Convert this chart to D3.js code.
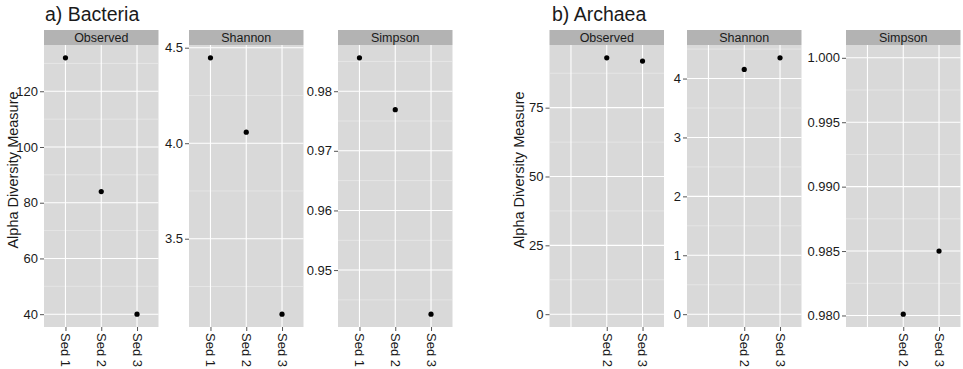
<!DOCTYPE html>
<html><head><meta charset="utf-8">
<script src="https://cdn.jsdelivr.net/npm/d3@7"></script>
<style>
body{margin:0;background:#fff;}
svg{display:block;font-family:"Liberation Sans",Arial,sans-serif;}
</style></head>
<body><svg id="c" width="963" height="369"></svg>
<script>
// ---- data ----
const samples = ["Sed 1", "Sed 2", "Sed 3"];
const measures = ["Observed", "Shannon", "Simpson"];

const bacteriaObserved = [132, 84, 40];
const bacteriaShannon = [4.447, 4.058, 3.105];
const bacteriaSimpson = [0.9856, 0.9769, 0.9426];

const archaeaObserved = [null, 93.1, 91.9];
const archaeaShannon = [null, 4.155, 4.352];
const archaeaSimpson = [null, 0.9801, 0.9850];
// Sed 1 archaea values: they set the axis range but have no visible point
const archaeaSed1Hidden = [0, 0, 1];

const bacteriaXLabels = ["Sed 1", "Sed 2", "Sed 3"];
const archaeaXLabels = ["", "Sed 2", "Sed 3"];

const bacteriaObservedTicks = [40, 60, 80, 100, 120];
const bacteriaShannonTicks = [3.5, 4.0, 4.5];
const bacteriaSimpsonTicks = [0.95, 0.96, 0.97, 0.98];
const archaeaObservedTicks = [0, 25, 50, 75];
const archaeaShannonTicks = [0, 1, 2, 3, 4];
const archaeaSimpsonTicks = [0.980, 0.985, 0.990, 0.995, 1.000];

const bacteriaObservedLabels = ["40", "60", "80", "100", "120"];
const bacteriaShannonLabels = ["3.5", "4.0", "4.5"];
const bacteriaSimpsonLabels = ["0.95", "0.96", "0.97", "0.98"];
const archaeaObservedLabels = ["0", "25", "50", "75"];
const archaeaShannonLabels = ["0", "1", "2", "3", "4"];
const archaeaSimpsonLabels = ["0.980", "0.985", "0.990", "0.995", "1.000"];

const titles = ["a) Bacteria", "b) Archaea"];
const yTitle = "Alpha Diversity Measure";

// ---- layout ----
const svg = d3.select("#c");
const stripTop = 30, panelTop = 45, panelBottom = 327, panelW = 114.5;
const colPanel = "#d9d9d9", colStrip = "#b3b3b3", colText = "#1a1a1a";

const blocks = [
  {title: titles[0], titleX: 45, yTitleX: 18, lefts: [44, 189, 338], xLabels: bacteriaXLabels,
   panels: [
     {vals: bacteriaObserved, hidden: null, ticks: bacteriaObservedTicks, labels: bacteriaObservedLabels},
     {vals: bacteriaShannon, hidden: null, ticks: bacteriaShannonTicks, labels: bacteriaShannonLabels},
     {vals: bacteriaSimpson, hidden: null, ticks: bacteriaSimpsonTicks, labels: bacteriaSimpsonLabels}]},
  {title: titles[1], titleX: 552, yTitleX: 524, lefts: [549.5, 687, 846], xLabels: archaeaXLabels,
   panels: [
     {vals: archaeaObserved, hidden: archaeaSed1Hidden[0], ticks: archaeaObservedTicks, labels: archaeaObservedLabels},
     {vals: archaeaShannon, hidden: archaeaSed1Hidden[1], ticks: archaeaShannonTicks, labels: archaeaShannonLabels},
     {vals: archaeaSimpson, hidden: archaeaSed1Hidden[2], ticks: archaeaSimpsonTicks, labels: archaeaSimpsonLabels}]}
];

blocks.forEach(b => {
  svg.append("text").attr("x", b.titleX).attr("y", 20.5)
    .attr("font-size", 19.5).attr("fill", colText).text(b.title);
  svg.append("text")
    .attr("transform", `translate(${b.yTitleX},170) rotate(-90)`)
    .attr("text-anchor", "middle").attr("font-size", 14.5).attr("fill", colText).text(yTitle);

  b.panels.forEach((p, i) => {
    const left = b.lefts[i];
    const g = svg.append("g");
    const x = d3.scalePoint().domain(samples).range([left, left + panelW]).padding(0.6);
    const ext = d3.extent(p.vals.filter(v => v != null).concat(p.hidden != null ? [p.hidden] : []));
    const span = ext[1] - ext[0];
    const y = d3.scaleLinear().domain([ext[0] - 0.05 * span, ext[1] + 0.05 * span]).range([panelBottom, panelTop]);

    // strip
    g.append("rect").attr("x", left).attr("y", stripTop).attr("width", panelW).attr("height", panelTop - stripTop).attr("fill", colStrip);
    g.append("text").attr("x", left + panelW / 2).attr("y", stripTop + 11.5).attr("text-anchor", "middle")
      .attr("font-size", 12.5).attr("fill", colText).text(measures[i]);
    // panel
    g.append("rect").attr("x", left).attr("y", panelTop).attr("width", panelW).attr("height", panelBottom - panelTop).attr("fill", colPanel);

    // minor gridlines
    const step = p.ticks[1] - p.ticks[0];
    const minors = [p.ticks[0] - step / 2].concat(p.ticks.map(t => t + step / 2))
      .filter(m => m >= y.domain()[0] && m <= y.domain()[1]);
    g.selectAll(".mn").data(minors).join("line")
      .attr("x1", left).attr("x2", left + panelW).attr("y1", d => y(d)).attr("y2", d => y(d))
      .attr("stroke", "#efefef").attr("stroke-width", 0.6);
    // major gridlines
    g.selectAll(".mj").data(p.ticks).join("line")
      .attr("x1", left).attr("x2", left + panelW).attr("y1", d => y(d)).attr("y2", d => y(d))
      .attr("stroke", "#fff").attr("stroke-width", 1.1);
    g.selectAll(".mx").data(samples).join("line")
      .attr("x1", d => x(d)).attr("x2", d => x(d)).attr("y1", panelTop).attr("y2", panelBottom)
      .attr("stroke", "#fff").attr("stroke-width", 1.1);

    // y axis
    const ya = g.append("g").attr("transform", `translate(${left},0)`)
      .call(d3.axisLeft(y).tickValues(p.ticks).tickSize(4).tickPadding(2)
        .tickFormat((d, k) => p.labels[k]));
    ya.select(".domain").remove();
    ya.selectAll("line").attr("stroke", "#555");
    ya.selectAll("text").attr("font-size", 13).attr("fill", colText)
      .attr("font-family", "Liberation Sans, Arial, sans-serif");

    // x axis
    const xa = g.append("g").attr("transform", `translate(0,${panelBottom})`)
      .call(d3.axisBottom(x).tickSize(4).tickPadding(2)
        .tickFormat((d, k) => b.xLabels[k]));
    xa.select(".domain").remove();
    xa.selectAll("line").attr("stroke", "#555")
      .attr("display", (d, k) => b.xLabels[k] === "" ? "none" : null);
    xa.selectAll("text").attr("font-size", 13).attr("fill", colText)
      .attr("font-family", "Liberation Sans, Arial, sans-serif")
      .attr("transform", "rotate(90)").attr("text-anchor", "start")
      .attr("x", 6).attr("y", 0).attr("dy", "0.35em");

    // points
    g.selectAll(".pt").data(samples.map((s, k) => ({s, v: p.vals[k]})).filter(d => d.v != null))
      .join("circle").attr("cx", d => x(d.s)).attr("cy", d => y(d.v)).attr("r", 2.6).attr("fill", "#000");
  });
});
</script></body></html>
